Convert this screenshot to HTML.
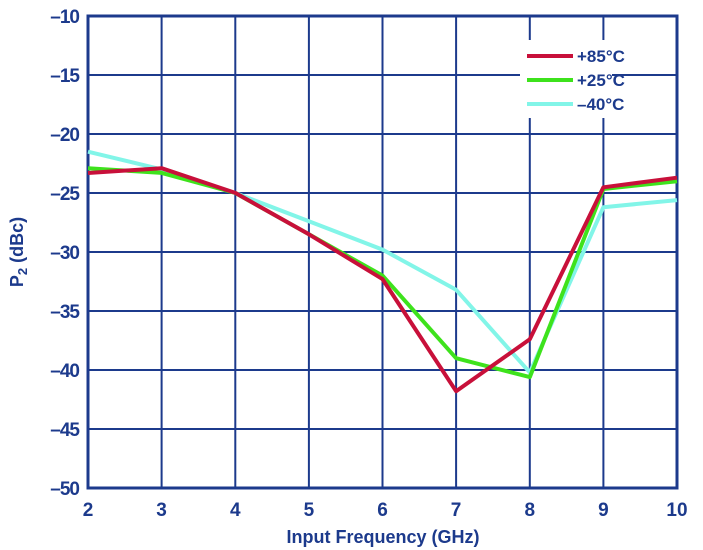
<!DOCTYPE html>
<html><head><style>body{margin:0;background:#fff}svg{display:block}text{font-family:"Liberation Sans",Arial,sans-serif;font-weight:bold;fill:#1c3a8c}</style></head>
<body>
<svg width="703" height="550" viewBox="0 0 703 550">
<g stroke="#1c3a8c" stroke-width="2" fill="none">
<path d="M161.6 16V488M235.3 16V488M308.9 16V488M382.5 16V488M456.1 16V488M529.8 16V488M603.4 16V488"/>
<path d="M88 75H677M88 134H677M88 193H677M88 252H677M88 311H677M88 370H677M88 429H677"/>
</g>
<rect x="520" y="40" width="92" height="78" fill="#fff"/>
<rect x="88" y="16" width="589" height="472" fill="none" stroke="#1c3a8c" stroke-width="3"/>
<g fill="none" stroke-width="4" stroke-linejoin="round">
<polyline stroke="#82f5e8" points="88,151.7 161.6,169.4 235.3,193 308.9,221.3 382.5,249.6 456.1,289.8 529.8,372.4 603.4,207.2 677,200.1"/>
<polyline stroke="#3ee21c" points="88,168.2 161.6,172.9 235.3,193 308.9,234.3 382.5,275.6 456.1,358.2 529.8,377.1 603.4,189 677,181.2"/>
<polyline stroke="#c8103a" points="88,173 161.6,168.2 235.3,192.9 308.9,234.3 382.5,279.1 456.1,391.2 529.8,339.3 603.4,187.3 677,177.7"/>
<line x1="527" y1="56" x2="573" y2="56" stroke="#c8103a"/>
<line x1="527" y1="80" x2="573" y2="80" stroke="#3ee21c"/>
<line x1="527" y1="104" x2="573" y2="104" stroke="#82f5e8"/>
</g>
<g font-size="17">
<text x="577" y="62">+85°C</text><text x="577" y="86">+25°C</text><text x="577" y="110">–40°C</text>
</g>
<g font-size="19" text-anchor="end" letter-spacing="-1">
<text x="79" y="23">–10</text><text x="79" y="82">–15</text><text x="79" y="141">–20</text><text x="79" y="200">–25</text><text x="79" y="259">–30</text><text x="79" y="318">–35</text><text x="79" y="377">–40</text><text x="79" y="436">–45</text><text x="79" y="495">–50</text>
</g>
<g font-size="19" text-anchor="middle">
<text x="88" y="516">2</text><text x="161.6" y="516">3</text><text x="235.3" y="516">4</text><text x="308.9" y="516">5</text><text x="382.5" y="516">6</text><text x="456.1" y="516">7</text><text x="529.8" y="516">8</text><text x="603.4" y="516">9</text><text x="677" y="516">10</text>
</g>
<g font-size="18" text-anchor="middle">
<text x="383" y="543">Input Frequency (GHz)</text>
<text transform="translate(23 252) rotate(-90)">P<tspan font-size="13" dy="4">2</tspan><tspan dy="-4"> (dBc)</tspan></text>
</g>
</svg>
</body></html>
